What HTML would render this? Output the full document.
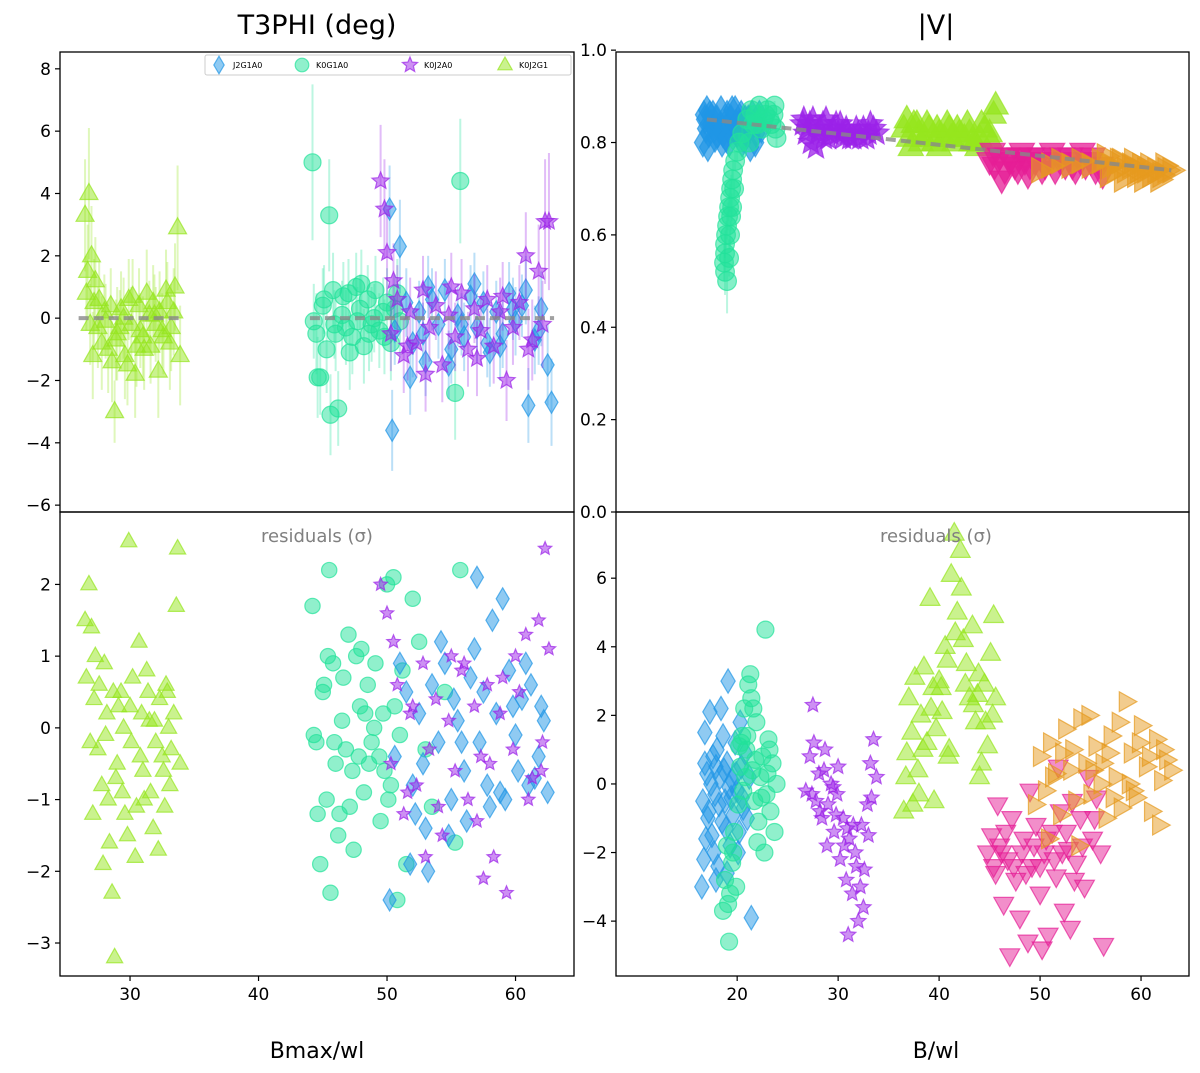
<!DOCTYPE html>
<html><head><meta charset="utf-8"><style>
body{margin:0;background:#fff}
svg text{font-family:"DejaVu Sans","Liberation Sans",sans-serif}
</style></head><body>
<svg id="chart" width="1200" height="1068" viewBox="0 0 1200 1068"></svg>
<script>
// ---------- DATA ----------
// Top-left T3PHI [x, y, err]
const t3_K0J2G1 = [[26.5,3.3,1.8],[26.8,4.0,2.1],[26.7,1.5,1.5],[27,2.0,1.6],[27.2,0.5,1.4],[26.6,0.8,1.2],[27.5,-0.3,1.3],[27.8,-0.8,1.5],[28,0.2,1.2],[28.3,-1.0,1.4],[28.6,-1.4,1.3],[28.8,-3.0,1.0],[29,-0.5,1.5],[29.3,0.3,1.2],[29.6,-1.2,1.4],[29.9,0.6,1.3],[30.1,-0.2,1.2],[30.4,-1.8,1.4],[30.7,0.4,1.2],[31,-0.6,1.3],[31.3,0.8,1.4],[31.6,-0.9,1.2],[31.9,0.1,1.3],[32.2,-1.7,1.5],[32.5,-0.4,1.2],[32.8,0.9,1.3],[33.1,-0.8,1.5],[33.4,0.2,1.4],[33.7,2.9,2.0],[33.9,-1.2,1.6],[33.5,1.0,1.4],[27.3,1.2,1.4],[28.1,-0.1,1.2],[29.5,0.0,1.3],[30.8,-0.4,1.2],[31.5,0.1,1.1],[32.0,-0.2,1.2],[32.9,0.5,1.3],[26.9,-0.2,1.3],[27.6,0.6,1.2],[28.9,-0.7,1.3],[30.2,0.7,1.2],[31.1,-1.0,1.3],[32.6,-0.6,1.2],[33.2,-0.3,1.4],[27.1,-1.2,1.4],[29.8,-1.5,1.3],[28.5,0.4,1.2],[30.5,-0.9,1.3],[31.8,0.5,1.2],[29.2,-0.3,1.2],[32.3,0.2,1.3]];
const t3_K0G1A0 = [[44.2,5.0,2.5],[45.5,3.3,1.8],[44.5,-0.5,1.3],[44.8,-1.9,1.2],[45,0.4,1.2],[45.3,-1.0,1.4],[45.6,-3.1,1.3],[45.8,0.9,1.2],[46.2,-2.9,1.2],[46.5,0.1,1.1],[46.8,-0.3,1.2],[47,0.8,1.1],[47.3,-0.6,1.2],[47.6,1.0,1.1],[47.9,0.3,1.1],[48.2,-0.9,1.2],[48.5,0.6,1.1],[48.8,-0.2,1.2],[49.1,0.9,1.1],[49.4,-0.4,1.2],[49.7,0.2,1.1],[50,0.5,1.1],[50.3,-0.8,1.2],[50.6,0.3,1.1],[51,-0.1,1.1],[55.7,4.4,2.0],[55.3,-2.4,1.5],[44.3,-0.1,1.2],[45.1,0.6,1.1],[46,-0.5,1.2],[47.1,-1.1,1.2],[48,1.1,1.1],[49,0.0,1.1],[49.8,-0.6,1.2],[50.8,0.8,1.1],[46.6,0.7,1.1],[48.6,-0.5,1.2],[44.6,-1.9,1.3],[45.9,-0.2,1.1],[47.7,-0.1,1.1]];
const t3_J2G1A0 = [[50.2,3.5,1.4],[50.4,-3.6,1.3],[51,2.3,1.5],[50.6,-0.4,1.1],[51.5,0.5,1.1],[52,-0.8,1.1],[52.5,0.2,1.0],[53,-1.4,1.1],[53.5,0.6,1.0],[54,-0.2,1.1],[54.5,0.9,1.0],[55,-1.0,1.1],[55.5,0.1,1.0],[56,-0.6,1.1],[56.5,0.7,1.0],[57,-0.3,1.1],[57.5,0.5,1.0],[58,-1.1,1.1],[58.5,0.2,1.0],[59,-0.5,1.1],[59.5,0.8,1.0],[60,-0.1,1.1],[60.5,0.4,1.0],[61,-2.8,1.2],[61.5,-0.7,1.1],[62,0.3,1.2],[62.5,-1.5,1.3],[62.8,-2.7,1.4],[51.8,-1.9,1.2],[53.2,1.0,1.0],[54.8,-1.5,1.1],[56.8,1.1,1.0],[58.8,-0.9,1.1],[60.8,0.9,1.1],[61.8,-0.4,1.1],[52.8,-0.5,1.0],[55.8,-0.2,1.0],[57.8,-0.8,1.1],[59.8,0.3,1.0]];
const t3_K0J2A0 = [[49.5,4.4,1.8],[49.8,3.5,1.6],[50,2.1,1.4],[50.3,-0.5,1.2],[50.8,0.6,1.1],[51.3,-1.2,1.2],[51.8,0.2,1.1],[52.3,-0.8,1.1],[52.8,0.9,1.1],[53.3,-0.3,1.1],[53.8,0.4,1.1],[54.3,-1.5,1.2],[54.8,0.1,1.1],[55.3,-0.6,1.1],[55.8,0.8,1.1],[56.3,-1.0,1.2],[56.8,0.3,1.1],[57.3,-0.4,1.1],[57.8,0.6,1.1],[58.3,-0.9,1.2],[58.8,0.2,1.1],[59.3,-2.0,1.3],[59.8,-0.3,1.2],[60.3,0.5,1.2],[60.8,2.0,1.4],[61.3,-0.7,1.3],[61.8,1.5,1.5],[62.3,3.1,2.0],[62.6,3.1,2.2],[62.1,-0.2,1.4],[50.5,1.2,1.2],[51.6,-0.9,1.1],[53,-1.8,1.2],[55,1.0,1.1],[57,-1.3,1.2],[59,0.7,1.1],[61,-1.0,1.3]];
const t3_modelSegments = [[26,34],[44,63]];

// Bottom-left residuals [x, y]
const rl_K0J2G1 = [[26.5,1.5],[26.8,2.0],[27,1.4],[27.2,0.4],[26.6,0.7],[27.5,-0.3],[27.8,-0.8],[28,0.9],[28.3,-1.0],[28.6,-2.3],[28.8,-3.2],[29,-0.5],[29.3,0.5],[29.6,-1.2],[29.9,2.6],[30.1,-0.2],[30.4,-1.8],[30.7,1.2],[31,-0.6],[31.3,0.8],[31.6,-0.9],[31.9,0.1],[32.2,-1.7],[32.5,-0.4],[32.8,0.6],[33.1,-0.8],[33.4,0.2],[33.7,2.5],[33.9,-0.5],[33.6,1.7],[27.3,1.0],[28.1,-0.1],[29.5,0.0],[30.8,-0.4],[31.5,0.1],[32.0,-0.2],[32.9,0.5],[26.9,-0.2],[27.6,0.6],[28.9,-0.7],[30.2,0.7],[31.1,-1.0],[32.6,-0.6],[33.2,-0.3],[27.1,-1.2],[29.8,-1.5],[28.4,-1.6],[30.5,-1.1],[31.8,-1.4],[29.1,0.3],[32.3,0.4],[27.9,-1.9],[30.9,0.2],[28.7,0.5],[29.4,-0.9],[31.4,0.5],[30.0,0.3],[32.7,-1.1],[28.2,0.2],[33.0,0.0]];
const rl_K0G1A0 = [[44.2,1.7],[45.5,2.2],[44.5,-0.2],[44.8,-1.9],[45,0.5],[45.3,-1.0],[45.6,-2.3],[45.8,0.9],[46.2,-1.5],[46.5,0.1],[46.8,-0.3],[47,1.3],[47.3,-0.6],[47.6,1.0],[47.9,0.3],[48.2,-0.9],[48.5,0.6],[48.8,-0.2],[49.1,0.9],[49.4,-0.4],[49.7,0.2],[50,2.0],[50.3,-0.8],[50.6,0.3],[51,-0.1],[55.7,2.2],[55.3,-1.6],[44.3,-0.1],[45.1,0.6],[46,-0.5],[47.1,-1.1],[48,1.1],[49,0.0],[49.8,-0.6],[50.8,-2.4],[46.6,0.7],[48.6,-0.5],[44.6,-1.2],[51.5,-1.9],[52.5,1.2],[53.5,-1.1],[54.5,0.5],[52,1.8],[53,-0.3],[47.4,-1.7],[45.9,-0.2],[50.5,2.1],[51.2,0.8],[46.3,-1.2],[48.3,0.2],[49.5,-1.3],[47.8,-0.4],[45.4,1.0],[50.1,-1.0]];
const rl_J2G1A0 = [[50.2,-2.4],[50.6,-0.4],[51.5,0.5],[52,-0.8],[52.5,0.2],[53,-1.4],[53.5,0.6],[54,-0.2],[54.5,0.9],[55,-1.0],[55.5,0.1],[56,-0.6],[56.5,0.7],[57,2.1],[57.5,0.5],[58,-1.1],[58.5,0.2],[59,1.8],[59.5,0.8],[60,-0.1],[60.5,0.4],[61,-0.8],[61.5,-0.7],[62,0.3],[62.5,-0.9],[51.8,-1.9],[53.2,-2.0],[54.8,-1.5],[56.8,1.1],[58.8,-0.9],[60.8,0.9],[61.8,-0.4],[52.8,-0.5],[55.8,-0.2],[57.8,-0.8],[59.8,0.3],[51,0.9],[52.2,-1.2],[54.2,1.2],[56.2,-1.3],[58.2,1.5],[60.2,-0.6],[62.2,0.1],[55.2,0.4],[57.2,-0.2],[59.2,-1.0],[61.2,0.6]];
const rl_K0J2A0 = [[49.5,2.0],[50,1.6],[50.3,-0.5],[50.8,0.6],[51.3,-1.2],[51.8,0.2],[52.3,-0.8],[52.8,0.9],[53.3,-0.3],[53.8,0.4],[54.3,-1.5],[54.8,0.1],[55.3,-0.6],[55.8,0.8],[56.3,-1.0],[56.8,0.3],[57.3,-0.4],[57.8,0.6],[58.3,-1.8],[58.8,0.2],[59.3,-2.3],[59.8,-0.3],[60.3,0.5],[60.8,1.3],[61.3,-0.7],[61.8,1.5],[62.3,2.5],[62.6,1.1],[62.1,-0.2],[50.5,1.2],[51.6,-0.9],[53,-1.8],[55,1.0],[57,-1.3],[59,0.7],[61,-1.0],[54,-1.1],[56,0.9],[58,-0.5],[60,1.0],[62,-0.6],[52,0.3],[57.5,-2.1]];

// Top-right |V| [x, y]
const v_J2G1A0 = [[16.6,0.80],[16.8,0.85],[17,0.87],[17.2,0.82],[17.4,0.84],[17.6,0.86],[17.8,0.81],[18,0.85],[18.2,0.83],[18.4,0.87],[18.6,0.82],[18.8,0.84],[19,0.86],[19.2,0.80],[19.4,0.85],[19.6,0.83],[19.8,0.87],[20,0.82],[20.2,0.84],[20.4,0.86],[20.6,0.81],[20.8,0.85],[21,0.83],[21.3,0.79],[21.6,0.84],[21.9,0.82],[22.2,0.86],[17.1,0.79],[18.5,0.80],[20.5,0.80],[21.5,0.86],[16.9,0.83],[19.9,0.84],[17.3,0.86],[18.1,0.82],[18.9,0.81],[19.5,0.87],[20.3,0.83],[21.1,0.85],[21.8,0.80],[22.4,0.83],[16.7,0.86],[17.7,0.83],[19.1,0.83],[20.9,0.82],[22.0,0.84]];
const v_K0G1A0 = [[21,0.85],[21.4,0.87],[21.8,0.86],[22.2,0.88],[22.6,0.85],[23,0.87],[23.4,0.84],[23.7,0.88],[23.9,0.81],[22.4,0.83],[21.2,0.80],[20.5,0.82],[20.2,0.80],[20.0,0.78],[19.8,0.76],[19.6,0.74],[19.5,0.72],[19.4,0.70],[19.3,0.68],[19.2,0.66],[19.1,0.64],[19.0,0.62],[18.9,0.60],[18.8,0.58],[18.8,0.56],[18.7,0.54],[18.8,0.52],[19.0,0.50],[19.2,0.55],[19.3,0.60],[19.4,0.64],[19.5,0.66],[19.7,0.70],[22.0,0.84],[22.8,0.86],[23.2,0.85],[23.6,0.86],[21.6,0.84],[23.8,0.83]];
const v_K0G1A0_err = [0.01,0.01,0.01,0.01,0.01,0.01,0.01,0.01,0.02,0.01,0.02,0.02,0.02,0.02,0.02,0.02,0.02,0.03,0.03,0.03,0.03,0.03,0.03,0.03,0.04,0.04,0.05,0.07,0.04,0.03,0.03,0.03,0.02,0.01,0.01,0.01,0.01,0.01,0.01];
const v_K0J2A0 = [[26.5,0.84],[27,0.83],[27.5,0.85],[28,0.82],[28.5,0.84],[29,0.81],[29.5,0.83],[30,0.82],[30.5,0.81],[31,0.82],[31.5,0.81],[32,0.82],[32.5,0.83],[33,0.82],[33.5,0.83],[33.8,0.82],[27.3,0.80],[28.8,0.85],[30.2,0.84],[31.8,0.83],[32.8,0.81],[27.8,0.79],[26.8,0.82],[27.2,0.84],[28.2,0.83],[29.2,0.82],[29.8,0.84],[30.8,0.83],[31.2,0.81],[32.2,0.81],[33.2,0.84],[26.6,0.85],[28.6,0.81],[30.4,0.82]];
const v_K0J2G1 = [[36.5,0.83],[37,0.81],[37.5,0.84],[38,0.82],[38.5,0.81],[39,0.83],[39.5,0.80],[40,0.82],[40.5,0.81],[41,0.83],[41.5,0.80],[42,0.82],[42.5,0.81],[43,0.82],[43.5,0.80],[44,0.81],[44.5,0.83],[45,0.82],[45.4,0.86],[45.6,0.88],[40,0.79],[37.2,0.79],[43.8,0.79],[36.8,0.85],[37.8,0.84],[38.8,0.84],[39.8,0.83],[40.8,0.84],[41.8,0.83],[42.8,0.84],[43.2,0.80],[44.2,0.84],[45.2,0.80],[38.2,0.80],[41.2,0.81]];
const v_K0J2A1 = [[45,0.76],[45.5,0.75],[46,0.77],[46.5,0.74],[47,0.76],[47.5,0.75],[48,0.77],[48.5,0.76],[49,0.75],[49.5,0.76],[50,0.77],[50.5,0.75],[51,0.76],[51.5,0.74],[52,0.76],[52.5,0.75],[53,0.77],[53.5,0.74],[54,0.76],[54.5,0.75],[55,0.76],[55.5,0.74],[56,0.75],[46.2,0.72],[48.2,0.78],[51.2,0.78],[54.2,0.78],[45.3,0.78],[46.8,0.77],[47.8,0.74],[49.2,0.77],[50.2,0.74],[52.2,0.77],[53.2,0.75],[55.2,0.77],[56.2,0.73],[48.8,0.73]];
const v_K0G1J2 = [[50,0.74],[51,0.75],[52,0.76],[53,0.75],[54,0.76],[55,0.75],[56,0.76],[57,0.75],[57.5,0.74],[58,0.76],[58.5,0.74],[59,0.75],[59.5,0.73],[60,0.75],[60.5,0.74],[61,0.73],[61.5,0.74],[62,0.73],[62.5,0.74],[63,0.74],[56.5,0.77],[58.2,0.72],[60.2,0.72],[56.8,0.73],[57.8,0.76],[59.2,0.76],[60.8,0.75],[61.8,0.72],[62.3,0.75],[59.8,0.74]];
const v_model = [[17,0.85],[63,0.74]];

// Bottom-right residuals [x, y]
const rr_J2G1A0 = [[16.5,-3.0],[16.7,-2.2],[16.8,1.5],[17,0.3],[17.2,-0.8],[17.3,2.1],[17.5,-1.5],[17.6,0.8],[17.8,-0.3],[18,1.0],[18.1,-2.4],[18.3,0.2],[18.5,-1.1],[18.6,1.4],[18.8,-0.5],[19,0.6],[19.1,3.0],[19.3,-1.8],[19.5,0.1],[19.6,-0.9],[19.8,1.2],[20,-0.2],[20.2,-1.4],[20.4,0.5],[20.6,-0.7],[20.8,0.9],[21,-1.0],[21.2,0.2],[17.9,-2.8],[16.9,-1.6],[18.4,2.2],[20.3,1.8],[21.4,-3.9],[19.2,-0.1],[17.4,0.0],[18.9,-1.3],[20.1,-2.0],[16.6,-0.5],[17.1,-1.0],[17.7,-2.0],[18.2,-0.6],[18.7,0.4],[19.4,-0.4],[19.9,0.3],[20.5,-0.4],[16.8,0.6],[17.9,0.5],[19.0,-2.6]];
const rr_K0G1A0 = [[18.6,-3.7],[18.8,-2.8],[19,-1.8],[19.2,-4.6],[19.3,-3.2],[19.5,-2.3],[19.7,-1.4],[19.9,-3.0],[20.1,-0.6],[20.3,0.5],[20.5,1.4],[20.7,2.2],[20.9,1.0],[21.1,2.9],[21.3,3.2],[21.5,0.4],[21.7,-0.5],[21.9,1.8],[22.1,-1.1],[22.3,0.2],[22.5,0.8],[22.7,-2.0],[22.9,-0.3],[23.1,1.3],[23.3,-0.8],[23.5,0.6],[23.7,-1.4],[23.9,0.0],[22.8,4.5],[21.4,2.5],[20.6,-0.2],[22.0,-1.7],[23.2,1.0],[21.8,0.7],[20.2,1.1],[19.1,-3.5],[20.4,1.2],[21.0,1.4],[21.6,2.2],[22.4,-0.4],[23.0,0.3],[20.8,0.2],[19.6,-2.0]];
const rr_K0J2A0 = [[26.8,-0.2],[27.2,0.8],[27.5,2.3],[27.8,-0.5],[28.1,0.3],[28.4,-1.0],[28.7,1.0],[29,-0.6],[29.3,0.0],[29.6,-1.4],[29.9,-0.3],[30.2,-2.2],[30.5,-1.0],[30.8,-2.8],[31.1,-1.6],[31.4,-3.2],[31.7,-2.0],[32,-4.0],[32.3,-1.2],[32.6,-2.5],[32.9,-0.6],[33.2,0.6],[33.5,1.3],[33.8,0.2],[31,-4.4],[28.9,-1.8],[30,0.5],[32.5,-3.6],[33,-1.5],[29.5,-0.1],[31.5,-1.2],[27.6,1.2],[28.2,-0.8],[29.8,-0.9],[30.6,-1.8],[31.8,-2.4],[32.2,-3.0],[28.6,0.4],[27.4,-0.3],[30.9,-1.3],[33.3,-0.4]];
const rr_K0J2G1 = [[36.5,-0.8],[36.8,0.9],[37,2.5],[37.3,1.5],[37.6,3.1],[37.9,0.4],[38.2,2.0],[38.5,3.4],[38.8,1.2],[39.1,5.4],[39.4,2.8],[39.7,1.6],[40,3.0],[40.3,2.1],[40.6,4.0],[40.9,0.8],[41.2,6.1],[41.5,7.3],[41.8,5.0],[42.1,6.8],[42.4,4.2],[42.7,3.5],[43,2.5],[43.3,4.6],[43.6,1.8],[43.9,3.2],[44.2,0.6],[44.5,2.9],[44.8,1.1],[45.1,3.8],[45.4,4.9],[45.6,2.5],[38,-0.3],[39.5,-0.5],[41,1.0],[42.2,5.7],[43.4,2.3],[44,0.2],[36.7,0.2],[37.4,-0.6],[38.4,1.0],[39.2,2.2],[40.2,2.8],[40.8,3.6],[41.6,4.4],[42.6,2.9],[43.8,2.6],[44.6,1.8],[45.3,2.0]];
const rr_K0J2A1 = [[44.8,-2.0],[45.2,-1.5],[45.6,-2.6],[46,-1.8],[46.4,-3.5],[46.8,-2.2],[47.2,-1.0],[47.6,-2.8],[48,-3.9],[48.4,-1.6],[48.8,-4.6],[49.2,-2.4],[49.6,-1.2],[50,-3.2],[50.4,-2.0],[50.8,-4.4],[51.2,-1.4],[51.6,-2.7],[52,-0.8],[52.4,-3.7],[52.8,-1.9],[53.2,-0.5],[53.6,-2.3],[54,-1.0],[54.4,-3.0],[54.8,0.2],[55.2,-1.6],[55.6,-0.4],[56,-2.0],[56.3,-4.7],[47,-5.0],[50.2,-4.8],[53,-4.2],[45.8,-0.6],[49,-0.2],[51.8,0.5],[45.4,-2.4],[46.2,-2.0],[47.4,-2.4],[48.2,-2.0],[49.4,-1.8],[50.6,-1.6],[51.4,-2.2],[52.6,-1.4],[53.4,-2.8],[54.2,-1.8],[55.4,-1.0],[46.6,-1.4],[48.6,-2.6],[50.0,-2.4],[52.2,-2.0]];
const rr_K0G1J2 = [[49.5,-0.6],[50,0.8],[50.5,-0.2],[51,1.2],[51.5,0.3],[52,-0.9],[52.5,1.6],[53,0.4],[53.5,-0.5],[54,1.9],[54.5,0.6],[55,-0.3],[55.5,1.1],[56,0.0],[56.5,-1.0],[57,1.4],[57.5,0.2],[58,-0.7],[58.5,2.4],[59,0.9],[59.5,-0.4],[60,1.7],[60.5,0.5],[61,-0.8],[61.5,1.3],[62,0.1],[62.5,0.7],[63,0.4],[50.8,-1.6],[53.8,-1.8],[56.8,0.9],[59.8,1.2],[61.8,-1.2],[54.8,2.0],[57.8,1.8],[52.2,0.9],[51.2,0.2],[53.2,1.0],[55.2,0.4],[57.2,-0.4],[58.8,0.0],[60.8,0.8],[62.2,1.0],[56.2,0.6],[59.2,-0.2]];

// ---------- DRAWING ----------
const svg = document.getElementById('chart');
const NS = 'http://www.w3.org/2000/svg';
function mk(tag, attrs, parent){ const e=document.createElementNS(NS,tag); for(const k in attrs) e.setAttribute(k,attrs[k]); (parent||svg).appendChild(e); return e; }

const COL = {blue:'#1f96e6', teal:'#22e29a', purple:'#9b22e8', green:'#96e61e', magenta:'#e61e96', orange:'#e69a1e'};

function axis(x0,x1,y0,y1,xmin,xmax,ymin,ymax){
  return {sx:v=>x0+(v-xmin)/(xmax-xmin)*(x1-x0), sy:v=>y1-(v-ymin)/(ymax-ymin)*(y1-y0)};
}
const P = {
  tl: Object.assign(axis(60,574,52,512,24.55,64.55,-6.22,8.54),{x0:60,x1:574,y0:52,y1:512}),
  bl: Object.assign(axis(60,574,512,976,24.55,64.55,-3.46,3.01),{x0:60,x1:574,y0:512,y1:976}),
  tr: Object.assign(axis(616,1189,52,512,8.0,64.75,0.0,0.996),{x0:616,x1:1189,y0:52,y1:512}),
  br: Object.assign(axis(616,1189,512,976,8.0,64.75,-5.6,7.93),{x0:616,x1:1189,y0:512,y1:976}),
};

function marker(g, shape, cx, cy, color, r, op){
  const st = {fill:color,'fill-opacity':op||0.5,stroke:color,'stroke-opacity':0.7,'stroke-width':1.2};
  let e;
  if(shape==='circle') e=mk('circle',Object.assign({cx,cy,r:r*0.85},st),g);
  else if(shape==='diamond') e=mk('polygon',Object.assign({points:`${cx},${cy-r*1.1} ${cx+r*0.65},${cy} ${cx},${cy+r*1.1} ${cx-r*0.65},${cy}`},st),g);
  else if(shape==='tri-up') e=mk('polygon',Object.assign({points:`${cx},${cy-r} ${cx+r*0.9},${cy+r*0.6} ${cx-r*0.9},${cy+r*0.6}`},st),g);
  else if(shape==='tri-down') e=mk('polygon',Object.assign({points:`${cx},${cy+r} ${cx+r*0.9},${cy-r*0.6} ${cx-r*0.9},${cy-r*0.6}`},st),g);
  else if(shape==='tri-right') e=mk('polygon',Object.assign({points:`${cx+r},${cy} ${cx-r*0.6},${cy-r*0.9} ${cx-r*0.6},${cy+r*0.9}`},st),g);
  else {
    let pts=[]; for(let i=0;i<10;i++){const a=-Math.PI/2+i*Math.PI/5; const rr=i%2?r*0.45:r; pts.push((cx+rr*Math.cos(a)).toFixed(1)+','+(cy+rr*Math.sin(a)).toFixed(1));}
    e=mk('polygon',Object.assign({points:pts.join(' ')},st),g);
  }
  
  
}

function series(p, data, shape, color, name, r, errs, op){
  const g = mk('g',{});
  
  
  if(errs){
    data.forEach((d,i)=>{
      const e = errs[i]!==undefined ? errs[i] : d[2];
      const l = mk('line',{x1:p.sx(d[0]),x2:p.sx(d[0]),y1:p.sy(d[1]-e),y2:p.sy(d[1]+e),stroke:color,'stroke-opacity':0.3,'stroke-width':2},g);
      
      
    });
  }
  data.forEach(d=>marker(g,shape,p.sx(d[0]),p.sy(d[1]),color,r,op));
}

function frame(p, name){
  const r = mk('rect',{x:p.x0,y:p.y0,width:p.x1-p.x0,height:p.y1-p.y0,fill:'none',stroke:'#000','stroke-width':1.3});
  
  
}
function yticks(p, vals, fmt, name){
  vals.forEach(v=>{
    const y=p.sy(v);
    mk('line',{x1:p.x0-5,x2:p.x0,y1:y,y2:y,stroke:'#000','stroke-width':1.2});
    const t=mk('text',{x:p.x0-9,y:y+6,'text-anchor':'end','font-size':17,fill:'#000'});
    t.textContent=fmt(v);
    
    
  });
}
function xticks(p, vals, name){
  vals.forEach(v=>{
    const x=p.sx(v);
    mk('line',{x1:x,x2:x,y1:p.y1,y2:p.y1+5,stroke:'#000','stroke-width':1.2});
    const t=mk('text',{x:x,y:p.y1+24,'text-anchor':'middle','font-size':17,fill:'#000'});
    t.textContent=String(v);
    
    
  });
}
function text(x,y,s,size,name,extra){
  const t=mk('text',Object.assign({x,y,'text-anchor':'middle','font-size':size,fill:'#000'},extra||{}));
  t.textContent=s;
  
  
  return t;
}

const fmtInt = v => (v<0?'\u2212':'')+Math.abs(v);
const fmt1 = v => v.toFixed(1);
const xtickVals = [30,40,50,60];
const t3Ticks=[-6,-4,-2,0,2,4,6,8], rlTicks=[-3,-2,-1,0,1,2], vTicks=[0.0,0.2,0.4,0.6,0.8,1.0], rrTicks=[-4,-2,0,2,4,6];
const xtickValsR = [20,30,40,50,60];

// Top-left
series(P.tl, t3_K0J2G1, 'tri-up', COL.green, 'series-k0j2g1', 10, []);
series(P.tl, t3_K0G1A0, 'circle', COL.teal, 'series-k0g1a0', 10, []);
series(P.tl, t3_J2G1A0, 'diamond', COL.blue, 'series-j2g1a0', 10, []);
series(P.tl, t3_K0J2A0, 'star', COL.purple, 'series-k0j2a0', 9, []);
t3_modelSegments.forEach(s=>{
  const l=mk('line',{x1:P.tl.sx(s[0]),x2:P.tl.sx(s[1]),y1:P.tl.sy(0),y2:P.tl.sy(0),stroke:'#888','stroke-width':4,'stroke-dasharray':'10,5','stroke-opacity':0.8});
  
  
});
const lg = mk('g',{});


const lr = mk('rect',{x:205,y:55,width:366,height:20,fill:'#fff','fill-opacity':0.8,stroke:'#ccc',rx:2},lg);


[['diamond',COL.blue,'J2G1A0',219],['circle',COL.teal,'K0G1A0',302],['star',COL.purple,'K0J2A0',410],['tri-up',COL.green,'K0J2G1',505]].forEach(e=>{
  marker(lg,e[0],e[3],65,e[1],8);
  const t=mk('text',{x:e[3]+14,y:68,'font-size':8,fill:'#000'},lg);
  t.textContent=e[2];
  
  
});
frame(P.tl,'top-left-axes');
yticks(P.tl,t3Ticks,fmtInt,'y-tick-label');

// Bottom-left
series(P.bl, rl_K0J2G1, 'tri-up', COL.green, 'residual-k0j2g1', 9);
series(P.bl, rl_K0G1A0, 'circle', COL.teal, 'residual-k0g1a0', 9);
series(P.bl, rl_J2G1A0, 'diamond', COL.blue, 'residual-j2g1a0', 10);
series(P.bl, rl_K0J2A0, 'star', COL.purple, 'residual-k0j2a0', 7);
frame(P.bl,'bottom-left-axes');
yticks(P.bl,rlTicks,fmtInt,'y-tick-label');
xticks(P.bl,xtickVals,'x-tick-label');
text(317,542,'residuals (\u03c3)',18,'residuals-label',{fill:'#808080'});

// Top-right
series(P.tr, v_J2G1A0, 'diamond', COL.blue, 'series-j2g1a0', 13, null, 0.7);
series(P.tr, v_K0G1A0, 'circle', COL.teal, 'series-k0g1a0', 11, v_K0G1A0_err, 0.55);
series(P.tr, v_K0J2A0, 'star', COL.purple, 'series-k0j2a0', 13, null, 0.75);
series(P.tr, v_K0J2G1, 'tri-up', COL.green, 'series-k0j2g1', 14, null, 0.75);
series(P.tr, v_K0J2A1, 'tri-down', COL.magenta, 'series-magenta', 14, null, 0.75);
series(P.tr, v_K0G1J2, 'tri-right', COL.orange, 'series-orange', 14, null, 0.65);
{ const l=mk('line',{x1:P.tr.sx(v_model[0][0]),y1:P.tr.sy(v_model[0][1]),x2:P.tr.sx(v_model[1][0]),y2:P.tr.sy(v_model[1][1]),stroke:'#888','stroke-width':4,'stroke-dasharray':'10,5','stroke-opacity':0.8});
  
   }
frame(P.tr,'top-right-axes');
yticks(P.tr,vTicks,fmt1,'y-tick-label');

// Bottom-right
series(P.br, rr_J2G1A0, 'diamond', COL.blue, 'residual-j2g1a0', 11);
series(P.br, rr_K0G1A0, 'circle', COL.teal, 'residual-k0g1a0', 10);
series(P.br, rr_K0J2A0, 'star', COL.purple, 'residual-k0j2a0', 8);
series(P.br, rr_K0J2G1, 'tri-up', COL.green, 'residual-k0j2g1', 11);
series(P.br, rr_K0J2A1, 'tri-down', COL.magenta, 'residual-magenta', 11);
series(P.br, rr_K0G1J2, 'tri-right', COL.orange, 'residual-orange', 11);
frame(P.br,'bottom-right-axes');
yticks(P.br,rrTicks,fmtInt,'y-tick-label');
xticks(P.br,xtickValsR,'x-tick-label');
text(936,542,'residuals (\u03c3)',18,'residuals-label',{fill:'#808080'});

text(317,34,'T3PHI (deg)',27,'left-title');
text(936,34,'|V|',27,'right-title');
text(317,1058,'Bmax/wl',22,'x-axis-title-left');
text(936,1058,'B/wl',22,'x-axis-title-right');
</script>
</body></html>
